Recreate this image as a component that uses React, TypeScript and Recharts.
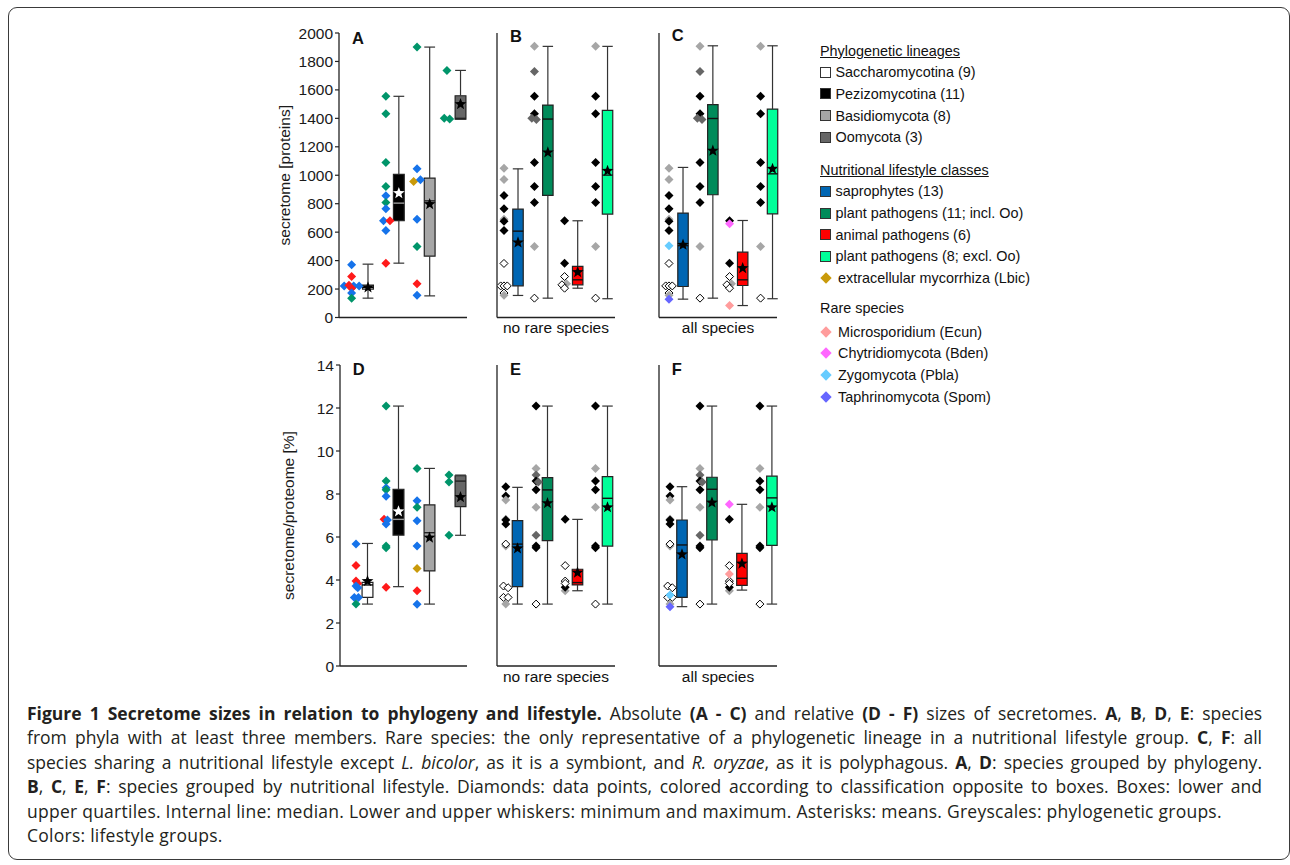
import React from 'react';
import { ScatterChart, Scatter, XAxis, YAxis, ReferenceArea, ReferenceLine } from 'recharts';

// one diamond: [group 1-4, value, class code, jitter slot]
type Pt = [number, number, string, number];
// one box: [min, q1, median, q3, max, mean]
type Box = [number, number, number, number, number, number];

const phyloGroups = ['Saccharomycotina', 'Pezizomycotina', 'Basidiomycota', 'Oomycota'];
const lifestyleGroups = ['saprophytes', 'plant pathogens (incl. Oo)', 'animal pathogens', 'plant pathogens (excl. Oo)'];

const countTicks = [0, 200, 400, 600, 800, 1000, 1200, 1400, 1600, 1800, 2000];
const pctTicks = [0, 2, 4, 6, 8, 10, 12, 14];

// A - absolute size, grouped by phylogeny (dots = lifestyle)
const pointsA: Pt[] = [
  [1, 370, 'S', 0], [1, 288, 'N', 0], [1, 222, 'S', -2.2], [1, 226, 'N', -0.8], [1, 222, 'S', 0.6],
  [1, 222, 'S', 2.2], [1, 206, 'N', 0], [1, 172, 'S', 0], [1, 136, 'P', 0],
  [2, 1555, 'P', 0], [2, 1432, 'P', 0], [2, 1090, 'P', 0], [2, 921, 'P', 0], [2, 856, 'S', 0],
  [2, 809, 'P', 0], [2, 764, 'S', 0], [2, 680, 'S', -0.7], [2, 680, 'N', 1.2], [2, 612, 'S', 0], [2, 382, 'N', 0],
  [3, 1901, 'P', 0], [3, 1045, 'S', 0], [3, 956, 'M', -1], [3, 968, 'S', 1], [3, 691, 'S', 0],
  [3, 499, 'P', 0], [3, 237, 'N', 0], [3, 157, 'S', 0],
  [4, 1737, 'P', 0], [4, 1400, 'P', -0.8], [4, 1395, 'P', 0.8],
];
const boxesA: Box[] = [
  [136, 200, 212, 227, 375, 211],
  [382, 680, 804, 1006, 1555, 874],
  [152, 431, 820, 980, 1901, 797],
  [1395, 1395, 1400, 1559, 1737, 1500],
];

// B - absolute size, grouped by lifestyle, no rare species (dots = phylogeny)
const pointsB: Pt[] = [
  [1, 1050, 'ba', 0], [1, 970, 'ba', 0], [1, 858, 'pe', 0], [1, 764, 'pe', 0], [1, 691, 'ba', 0],
  [1, 677, 'pe', 0], [1, 612, 'pe', 0], [1, 380, 'sa', 0], [1, 222, 'sa', -1], [1, 222, 'sa', 0],
  [1, 222, 'sa', 1], [1, 172, 'sa', 0], [1, 157, 'ba', 0],
  [2, 1906, 'ba', 0], [2, 1730, 'oo', 0], [2, 1555, 'pe', 0], [2, 1432, 'pe', 0], [2, 1400, 'oo', -0.8],
  [2, 1392, 'oo', 0.6], [2, 1090, 'pe', 0], [2, 921, 'pe', 0], [2, 809, 'pe', 0], [2, 499, 'ba', 0], [2, 136, 'sa', 0],
  [3, 680, 'pe', 0], [3, 382, 'pe', 0], [3, 288, 'sa', 0], [3, 237, 'ba', 0.6], [3, 230, 'sa', -0.8], [3, 206, 'sa', 0],
  [4, 1906, 'ba', 0], [4, 1555, 'pe', 0], [4, 1432, 'pe', 0], [4, 1090, 'pe', 0], [4, 921, 'pe', 0],
  [4, 809, 'pe', 0], [4, 499, 'ba', 0], [4, 136, 'sa', 0],
];
const boxesB: Box[] = [
  [155, 223, 607, 762, 1045, 527],
  [136, 858, 1395, 1493, 1906, 1160],
  [206, 230, 265, 359, 680, 319],
  [132, 727, 1001, 1456, 1906, 1031],
];

// C - absolute size, all species (rare ones added)
const rareC: Pt[] = [[1, 504, 'pbla', 0], [1, 129, 'spom', 0], [3, 659, 'bden', 0], [3, 84, 'ecun', 0]];
const pointsC: Pt[] = [...pointsB, ...rareC];
const boxesC: Box[] = [
  [129, 218, 505, 734, 1055, 511],
  [136, 863, 1399, 1496, 1910, 1172],
  [84, 225, 265, 459, 682, 347],
  [132, 729, 1010, 1465, 1910, 1045],
];

// D - relative size, grouped by phylogeny
const pointsD: Pt[] = [
  [1, 5.67, 'S', 0], [1, 4.67, 'N', 0], [1, 3.95, 'N', 0], [1, 3.84, 'N', 0.5], [1, 3.72, 'S', 0],
  [1, 3.64, 'S', 0.5], [1, 3.19, 'S', -0.5], [1, 3.19, 'S', 0.7], [1, 2.88, 'P', 0],
  [2, 12.09, 'P', 0], [2, 8.6, 'P', 0], [2, 8.29, 'S', 0], [2, 8.2, 'P', 0], [2, 7.9, 'S', 0],
  [2, 6.82, 'N', -0.6], [2, 6.79, 'S', 0.4], [2, 6.6, 'S', 0], [2, 5.58, 'P', 0], [2, 5.5, 'P', 0], [2, 3.66, 'N', 0],
  [3, 9.19, 'P', 0], [3, 7.69, 'S', 0], [3, 7.38, 'P', 0], [3, 6.76, 'S', 0], [3, 5.58, 'S', 0],
  [3, 4.54, 'M', 0], [3, 3.5, 'N', 0], [3, 2.87, 'S', 0],
  [4, 8.88, 'P', 0], [4, 8.56, 'P', 0], [4, 6.08, 'P', 0],
];
const boxesD: Box[] = [
  [2.88, 3.19, 3.77, 3.89, 5.7, 3.95],
  [3.69, 6.09, 6.82, 8.22, 12.09, 7.19],
  [2.88, 4.42, 6.2, 7.49, 9.19, 5.97],
  [6.08, 7.41, 8.6, 8.85, 8.88, 7.85],
];

// E - relative size, grouped by lifestyle, no rare species
const pointsE: Pt[] = [
  [1, 8.34, 'pe', 0], [1, 7.91, 'pe', 0], [1, 7.72, 'ba', 0], [1, 6.82, 'ba', 0], [1, 6.79, 'pe', 0],
  [1, 6.6, 'pe', 0], [1, 5.58, 'ba', 0], [1, 5.67, 'sa', 0], [1, 3.72, 'sa', -0.7], [1, 3.64, 'sa', 0.7],
  [1, 3.19, 'sa', -0.7], [1, 3.19, 'sa', 0.7], [1, 2.88, 'ba', 0],
  [2, 12.09, 'pe', 0], [2, 9.19, 'ba', 0], [2, 8.88, 'oo', 0], [2, 8.6, 'pe', 0], [2, 8.56, 'oo', 0.7],
  [2, 8.2, 'pe', 0], [2, 7.38, 'ba', 0], [2, 6.08, 'oo', 0], [2, 5.58, 'pe', 0], [2, 5.5, 'pe', 0], [2, 2.88, 'sa', 0],
  [3, 6.82, 'pe', 0], [3, 3.5, 'ba', 0], [3, 3.66, 'pe', 0], [3, 4.67, 'sa', 0], [3, 3.95, 'sa', 0], [3, 3.84, 'sa', 0],
  [4, 12.09, 'pe', 0], [4, 9.19, 'ba', 0], [4, 8.6, 'pe', 0], [4, 8.2, 'pe', 0], [4, 7.38, 'ba', 0],
  [4, 5.58, 'pe', 0], [4, 5.5, 'pe', 0], [4, 2.88, 'sa', 0],
];
const boxesE: Box[] = [
  [2.88, 3.69, 5.67, 6.76, 8.31, 5.47],
  [2.88, 5.83, 8.19, 8.76, 12.09, 7.57],
  [3.5, 3.77, 3.88, 4.5, 6.82, 4.34],
  [2.88, 5.58, 7.8, 8.81, 12.09, 7.38],
];

// F - relative size, all species
const rareF: Pt[] = [[1, 3.3, 'pbla', 0], [1, 2.76, 'spom', 0], [3, 7.52, 'bden', 0], [3, 4.28, 'ecun', 0]];
const pointsF: Pt[] = [...pointsE, ...rareF];
const boxesF: Box[] = [
  [2.76, 3.19, 5.63, 6.79, 8.34, 5.19],
  [2.88, 5.86, 8.22, 8.78, 12.09, 7.6],
  [3.53, 3.75, 4.08, 5.24, 7.52, 4.76],
  [2.88, 5.61, 7.82, 8.83, 12.09, 7.38],
];

const dotFill: Record<string, string> = {
  S: '#1673EA', P: '#00956A', N: '#FF1A1A', M: '#C99A0A',
  sa: '#FFFFFF', pe: '#000000', ba: '#A6A6A6', oo: '#666666',
  ecun: '#FF9C9C', bden: '#FF66FF', pbla: '#66CCFF', spom: '#6666FF',
};

const phyloBox = { fill: ['#FFFFFF', '#000000', '#A6A6A6', '#666666'], median: ['#000', '#9A9A9A', '#222', '#222'], star: ['#000', '#FFF', '#000', '#000'] };
const lifeBox = { fill: ['#0066B3', '#008B5A', '#FF0000', '#00FF99'], median: ['#111', '#111', '#111', '#111'], star: ['#000', '#000', '#000', '#000'] };

const FONT = 'Arial, "Liberation Sans", sans-serif';
const HW = 0.175;
const STEP = 0.11;

const Diamond = (props: any) => {
  const { cx, cy, payload } = props;
  const open = payload.code === 'sa';
  const r = open ? 4 : 4.5;
  return (
    <polygon
      points={`${cx},${cy - r} ${cx + r},${cy} ${cx},${cy + r} ${cx - r},${cy}`}
      fill={dotFill[payload.code]}
      stroke={open ? '#000' : 'none'}
      strokeWidth={1}
    />
  );
};

const Star = (props: any) => {
  const { cx, cy, payload } = props;
  const pts: string[] = [];
  for (let i = 0; i < 10; i++) {
    const r = i % 2 === 0 ? 6.2 : 2.6;
    const a = -Math.PI / 2 + (i * Math.PI) / 5;
    pts.push(`${cx + r * Math.cos(a)},${cy + r * Math.sin(a)}`);
  }
  return <polygon points={pts.join(' ')} fill={payload.fill} />;
};

type PanelProps = {
  letter: string;
  letterX: number;
  letterY: number;
  left: number;
  top: number;
  width: number;
  height: number;
  yWidth: number;
  mTop: number;
  xDomain: [number, number];
  yDomain: [number, number];
  yTicks: number[];
  tickLabels: boolean;
  yTitle?: string;
  yTitleX?: number;
  xTitle?: string;
  points: Pt[];
  boxes: Box[];
  style: { fill: string[]; median: string[]; star: string[] };
  dotShift: number[];
};

const Panel = (p: PanelProps) => {
  const dots = p.points.map(([g, v, code, slot]) => ({ x: g + p.dotShift[g - 1] + slot * STEP, y: v, code }));
  const means = p.boxes.map((b, i) => ({ x: i + 1, y: b[5], fill: p.style.star[i] }));
  const wk = { stroke: '#333', strokeWidth: 1.2, ifOverflow: 'visible' as const };

  return (
    <>
      <div style={{ position: 'absolute', left: p.left, top: p.top, fontFamily: FONT }}>
        <ScatterChart width={p.width} height={p.height} margin={{ top: p.mTop, right: 2, bottom: 0, left: 0 }}>
          <XAxis
            type="number"
            dataKey="x"
            domain={p.xDomain}
            allowDataOverflow
            tick={false}
            tickLine={false}
            height={20.5}
            axisLine={{ stroke: '#222', strokeWidth: 1.3 }}
            label={p.xTitle ? { value: p.xTitle, position: 'insideBottom', offset: 5, fontSize: 15.5, fill: '#111' } : undefined}
          />
          <YAxis
            type="number"
            dataKey="y"
            domain={p.yDomain}
            allowDataOverflow
            ticks={p.yTicks}
            interval={0}
            width={p.yWidth}
            tickSize={4}
            tickMargin={2}
            tickLine={{ stroke: '#222', strokeWidth: 1.2 }}
            axisLine={{ stroke: '#222', strokeWidth: 1.3 }}
            tick={p.tickLabels ? { fontSize: 15.5, fill: '#1a1a1a' } : false}
            label={
              p.yTitle
                ? {
                    content: (lp: any) => {
                      const vb = lp.viewBox;
                      const x = vb.x + (p.yTitleX ?? 25);
                      const y = vb.y + vb.height / 2;
                      return (
                        <text x={x} y={y} dy="0.35em" textAnchor="middle" transform={`rotate(-90 ${x} ${y})`} fontSize={15.5} fill="#1a1a1a">
                          {p.yTitle}
                        </text>
                      );
                    },
                  }
                : undefined
            }
          />
          {p.boxes.map((b, i) => (
            <ReferenceLine key={`wu${i}`} segment={[{ x: i + 1, y: b[3] }, { x: i + 1, y: b[4] }]} {...wk} />
          ))}
          {p.boxes.map((b, i) => (
            <ReferenceLine key={`wl${i}`} segment={[{ x: i + 1, y: b[0] }, { x: i + 1, y: b[1] }]} {...wk} />
          ))}
          {p.boxes.map((b, i) => (
            <ReferenceLine key={`cu${i}`} segment={[{ x: i + 1 - HW, y: b[4] }, { x: i + 1 + HW, y: b[4] }]} {...wk} />
          ))}
          {p.boxes.map((b, i) => (
            <ReferenceLine key={`cl${i}`} segment={[{ x: i + 1 - HW, y: b[0] }, { x: i + 1 + HW, y: b[0] }]} {...wk} />
          ))}
          {p.boxes.map((b, i) => (
            <ReferenceArea
              key={`bx${i}`}
              x1={i + 1 - HW}
              x2={i + 1 + HW}
              y1={b[1]}
              y2={b[3]}
              fill={p.style.fill[i]}
              fillOpacity={1}
              stroke="#222"
              strokeWidth={1.2}
              ifOverflow="visible"
            />
          ))}
          {p.boxes.map((b, i) => (
            <ReferenceLine
              key={`md${i}`}
              segment={[{ x: i + 1 - HW, y: b[2] }, { x: i + 1 + HW, y: b[2] }]}
              stroke={p.style.median[i]}
              strokeWidth={1.4}
              ifOverflow="visible"
            />
          ))}
          <Scatter data={dots} shape={Diamond} isAnimationActive={false} />
          <Scatter data={means} shape={Star} isAnimationActive={false} />
        </ScatterChart>
      </div>
      <div
        style={{
          position: 'absolute',
          left: p.letterX,
          top: p.letterY,
          fontFamily: FONT,
          fontWeight: 'bold',
          fontSize: 16.5,
          lineHeight: '16px',
          color: '#111',
        }}
      >
        {p.letter}
      </div>
    </>
  );
};

const legendPhylo = [
  { label: 'Saccharomycotina (9)', color: '#FFFFFF' },
  { label: 'Pezizomycotina (11)', color: '#000000' },
  { label: 'Basidiomycota (8)', color: '#A6A6A6' },
  { label: 'Oomycota (3)', color: '#666666' },
];
const legendLife = [
  { label: 'saprophytes (13)', color: '#0066B3' },
  { label: 'plant pathogens (11; incl. Oo)', color: '#008B5A' },
  { label: 'animal pathogens (6)', color: '#FF0000' },
  { label: 'plant pathogens (8; excl. Oo)', color: '#00FF99' },
];
const legendRare = [
  { label: 'Microsporidium (Ecun)', color: '#FF9C9C' },
  { label: 'Chytridiomycota (Bden)', color: '#FF66FF' },
  { label: 'Zygomycota (Pbla)', color: '#66CCFF' },
  { label: 'Taphrinomycota (Spom)', color: '#6666FF' },
];

const Row = ({ y, children }: { y: number; children: React.ReactNode }) => (
  <div style={{ position: 'absolute', left: 820, top: y - 9, height: 18, display: 'flex', alignItems: 'center', whiteSpace: 'nowrap' }}>
    {children}
  </div>
);

const SquareItem = ({ y, label, color }: { y: number; label: string; color: string }) => (
  <Row y={y}>
    <span style={{ display: 'inline-block', width: 8.5, height: 9, background: color, border: '1px solid #333', marginRight: 5 }} />
    <span>{label}</span>
  </Row>
);

const DiamondItem = ({ y, label, color }: { y: number; label: string; color: string }) => (
  <Row y={y}>
    <span style={{ display: 'inline-block', width: 8, height: 8, background: color, transform: 'rotate(45deg)', margin: '0 8px 0 2px' }} />
    <span>{label}</span>
  </Row>
);

const Legend = () => (
  <div style={{ position: 'absolute', left: 0, top: 0, fontFamily: FONT, fontSize: 14.4, color: '#111' }}>
    <Row y={50.7}>
      <span style={{ textDecoration: 'underline' }}>Phylogenetic lineages</span>
    </Row>
    {legendPhylo.map((d, i) => (
      <SquareItem key={d.label} y={72.3 + i * 21.6} label={d.label} color={d.color} />
    ))}
    <Row y={170}>
      <span style={{ textDecoration: 'underline' }}>Nutritional lifestyle classes</span>
    </Row>
    {legendLife.map((d, i) => (
      <SquareItem key={d.label} y={191.3 + i * 21.7} label={d.label} color={d.color} />
    ))}
    <DiamondItem y={278.3} label="extracellular mycorrhiza (Lbic)" color="#C99A0A" />
    <Row y={308.3}>
      <span>Rare species</span>
    </Row>
    {legendRare.map((d, i) => (
      <DiamondItem key={d.label} y={331.7 + i * 21.7} label={d.label} color={d.color} />
    ))}
  </div>
);

// caption lines: [text, 'b' bold | 'i' italic | '' regular]
const captionLines: [string, string][][] = [
  [
    ['Figure 1 Secretome sizes in relation to phylogeny and lifestyle.', 'b'],
    [' Absolute ', ''], ['(A - C)', 'b'], [' and relative ', ''], ['(D - F)', 'b'],
    [' sizes of secretomes. ', ''], ['A', 'b'], [', ', ''], ['B', 'b'], [', ', ''], ['D', 'b'], [', ', ''], ['E', 'b'], [': species', ''],
  ],
  [
    ['from phyla with at least three members. Rare species: the only representative of a phylogenetic lineage in a nutritional lifestyle group. ', ''],
    ['C', 'b'], [', ', ''], ['F', 'b'], [': all', ''],
  ],
  [
    ['species sharing a nutritional lifestyle except ', ''], ['L. bicolor', 'i'], [', as it is a symbiont, and ', ''],
    ['R. oryzae', 'i'], [', as it is polyphagous. ', ''], ['A', 'b'], [', ', ''], ['D', 'b'], [': species grouped by phylogeny.', ''],
  ],
  [
    ['B', 'b'], [', ', ''], ['C', 'b'], [', ', ''], ['E', 'b'], [', ', ''], ['F', 'b'],
    [': species grouped by nutritional lifestyle. Diamonds: data points, colored according to classification opposite to boxes. Boxes: lower and', ''],
  ],
  [['upper quartiles. Internal line: median. Lower and upper whiskers: minimum and maximum. Asterisks: means. Greyscales: phylogenetic groups.', '']],
  [['Colors: lifestyle groups.', '']],
];

const Caption = () => (
  <div
    style={{
      position: 'absolute',
      left: 27,
      top: 701,
      width: 1235,
      fontFamily: '"Open Sans", sans-serif',
      fontSize: 17.5,
      lineHeight: '24.4px',
      color: '#231f20',
    }}
  >
    {captionLines.map((line, li) => (
      <div
        key={li}
        style={{
          textAlign: 'justify',
          textAlignLast: li < 4 ? 'justify' : 'left',
          letterSpacing: li < 4 ? 0 : 0.25,
          whiteSpace: 'nowrap',
        }}
      >
        {line.map(([t, s], si) => (
          <span key={si} style={{ fontWeight: s === 'b' ? 'bold' : 'normal', fontStyle: s === 'i' ? 'italic' : 'normal', whiteSpace: 'pre' }}>
            {t}
          </span>
        ))}
      </div>
    ))}
  </div>
);

export default function App() {
  return (
    <div style={{ position: 'absolute', left: 0, top: 0, width: 1290, height: 865, background: '#fff', overflow: 'hidden' }}>
      <div
        style={{
          position: 'absolute',
          left: 8,
          top: 7,
          width: 1282,
          height: 853,
          border: '1.5px solid #3a3a3a',
          borderRadius: 9,
          boxSizing: 'border-box',
        }}
      />
      <Panel
        letter="A" letterX={352} letterY={29.7}
        left={260} top={20} width={209} height={318} yWidth={79} mTop={13}
        xDomain={[0.06, 4.21]} yDomain={[0, 2000]} yTicks={countTicks} tickLabels
        yTitle="secretome [proteins]" yTitleX={24.5}
        points={pointsA} boxes={boxesA} style={phyloBox} dotShift={[-0.53, -0.42, -0.41, -0.44]}
      />
      <Panel
        letter="B" letterX={510} letterY={28}
        left={480} top={20} width={137} height={318} yWidth={17} mTop={13}
        xDomain={[0.296, 4.25]} yDomain={[0, 2000]} yTicks={countTicks} tickLabels={false}
        xTitle="no rare species"
        points={pointsB} boxes={boxesB} style={lifeBox} dotShift={[-0.47, -0.45, -0.44, -0.4]}
      />
      <Panel
        letter="C" letterX={671.7} letterY={27}
        left={642} top={20} width={137} height={318} yWidth={17} mTop={13}
        xDomain={[0.195, 4.15]} yDomain={[0, 2000]} yTicks={countTicks} tickLabels={false}
        xTitle="all species"
        points={pointsC} boxes={boxesC} style={lifeBox} dotShift={[-0.47, -0.43, -0.44, -0.4]}
      />
      <Panel
        letter="D" letterX={352.7} letterY={361}
        left={261} top={350} width={208} height={336.5} yWidth={79} mTop={15}
        xDomain={[0.113, 4.21]} yDomain={[0, 14]} yTicks={pctTicks} tickLabels
        yTitle="secretome/proteome [%]" yTitleX={28}
        points={pointsD} boxes={boxesD} style={phyloBox} dotShift={[-0.37, -0.4, -0.4, -0.37]}
      />
      <Panel
        letter="E" letterX={510} letterY={361}
        left={480} top={350} width={137} height={336.5} yWidth={17} mTop={15}
        xDomain={[0.317, 4.25]} yDomain={[0, 14]} yTicks={pctTicks} tickLabels={false}
        xTitle="no rare species"
        points={pointsE} boxes={boxesE} style={lifeBox} dotShift={[-0.39, -0.38, -0.41, -0.4]}
      />
      <Panel
        letter="F" letterX={671.7} letterY={361}
        left={642} top={350} width={137} height={336.5} yWidth={17} mTop={15}
        xDomain={[0.233, 4.17]} yDomain={[0, 14]} yTicks={pctTicks} tickLabels={false}
        xTitle="all species"
        points={pointsF} boxes={boxesF} style={lifeBox} dotShift={[-0.4, -0.4, -0.42, -0.4]}
      />
      <Legend />
      <Caption />
    </div>
  );
}
